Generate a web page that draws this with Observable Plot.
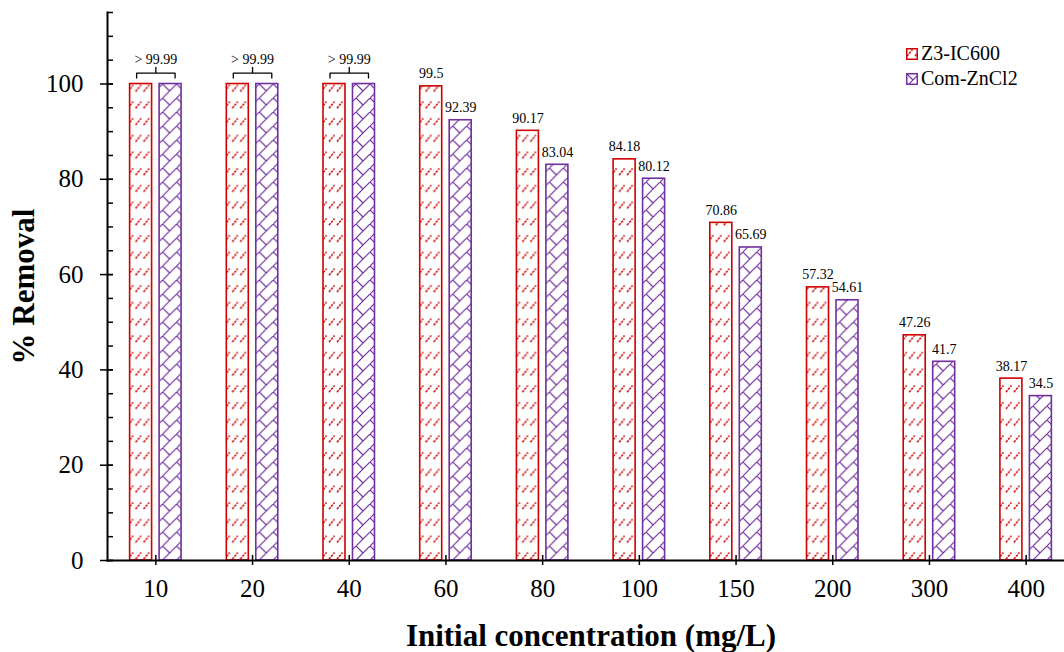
<!DOCTYPE html>
<html>
<head>
<meta charset="utf-8">
<script src="https://cdn.jsdelivr.net/npm/d3@7"></script>
<script src="https://cdn.jsdelivr.net/npm/@observablehq/plot@0.6"></script>
<style>
  html, body { margin: 0; padding: 0; background: #fff; overflow: hidden; }
  #wrap { position: relative; width: 1064px; height: 652px; }
  #legend { position: absolute; left: 906px; top: 41px; font-family: "Liberation Serif", "Times New Roman", serif; font-size: 20px; color: #000; }
  #legend .item { display: flex; align-items: center; height: 25px; white-space: nowrap; }
  #legend .item svg { margin-right: 3px; }
</style>
</head>
<body>
<svg width="0" height="0" style="position:absolute">
  <defs>
    <pattern id="patZ3" patternUnits="userSpaceOnUse" width="8" height="16.7">
      <rect width="8" height="16.7" fill="#fff"></rect>
      <path d="M1,8L6.5,1.5" stroke="#d00000" stroke-width="1.5" stroke-dasharray="2.4 1" fill="none"></path>
    </pattern>
    <pattern id="patCom" patternUnits="userSpaceOnUse" width="14" height="14">
      <rect width="14" height="14" fill="#fff"></rect>
      <path d="M0,14L14,0M0,0L7,7" stroke="#7030a0" stroke-width="1.2" fill="none"></path>
    </pattern>
  </defs>
</svg>
<div id="wrap"><div id="chart"></div><div id="legend"></div></div>
<script>
// ---- data ----
const concentrations = ["10", "20", "40", "60", "80", "100", "150", "200", "300", "400"];
const seriesNames = ["Z3-IC600", "Com-ZnCl2"];
const z3IC600 = [99.99, 99.99, 99.99, 99.5, 90.17, 84.18, 70.86, 57.32, 47.26, 38.17];
const comZnCl2 = [99.99, 99.99, 99.99, 92.39, 83.04, 80.12, 65.69, 54.61, 41.7, 34.5];
const bracketed = ["10", "20", "40"];
const bracketText = "> 99.99";
const majorTicks = [0, 20, 40, 60, 80, 100];
const minorTicks = [0, 5, 10, 15, 20, 25, 30, 35, 40, 45, 50, 55, 60, 65, 70, 75, 80, 85, 90, 95, 100, 105, 110, 115];
const yLabel = "% Removal";
const xLabel = "Initial concentration (mg/L)";

const seriesColors = ["#d00000", "#7030a0"];
const seriesPatterns = ["url(#patZ3)", "url(#patCom)"];

// ---- layout ----
const W = 1064, H = 652, mL = 107, mR = -10;
const fxPadInner = 0.4677, fxPadOuter = 0.2338;
// facet frames start after the fx outer padding; shift the axis lines back onto the plot's left edge
const axisShift = -fxPadOuter * (W - mL - mR) / concentrations.length;

// ---- tables ----
const rows = concentrations.flatMap((c, i) => [
  {conc: c, series: seriesNames[0], value: z3IC600[i]},
  {conc: c, series: seriesNames[1], value: comZnCl2[i]}
]);
const labeled = rows.filter(d => !bracketed.includes(d.conc));
const bracketRows = concentrations
  .map((c, i) => ({conc: c, a: seriesNames[0], b: seriesNames[1], value: z3IC600[i]}))
  .filter(d => bracketed.includes(d.conc));

// bracket-shaped curve for the "> 99.99" groups
function bracketCurve(context) {
  let pts = [];
  return {
    areaStart() {}, areaEnd() {},
    lineStart() { pts = []; },
    point(x, y) { pts.push([+x, +y]); },
    lineEnd() {
      const [[x1, y], [x2]] = pts;
      const ext = 4.5, leg = 5.5, nub = 6, mid = (x1 + x2) / 2;
      context.moveTo(x1 - ext, y + leg);
      context.lineTo(x1 - ext, y);
      context.lineTo(x2 + ext, y);
      context.lineTo(x2 + ext, y + leg);
      context.moveTo(mid, y);
      context.lineTo(mid, y - nub);
    }
  };
}

const chart = Plot.plot({
  width: W,
  height: H,
  marginTop: 12,
  marginBottom: 92,
  marginLeft: mL,
  marginRight: mR,
  style: {fontFamily: '"Liberation Serif", "Times New Roman", serif', background: "#fff", color: "#000", overflow: "hidden"},
  fx: {domain: concentrations, paddingInner: fxPadInner, paddingOuter: fxPadOuter, round: false, label: null},
  x: {domain: seriesNames, paddingInner: 0.2542, paddingOuter: 0, round: false, axis: null},
  y: {domain: [0, 115]},
  marks: [
    Plot.barY(rows.filter(d => d.series === seriesNames[0]), {
      fx: "conc", x: "series", y: "value",
      fill: seriesPatterns[0], stroke: seriesColors[0], strokeWidth: 1.6
    }),
    Plot.barY(rows.filter(d => d.series === seriesNames[1]), {
      fx: "conc", x: "series", y: "value",
      fill: seriesPatterns[1], stroke: seriesColors[1], strokeWidth: 1.6
    }),
    Plot.text(labeled, {
      fx: "conc", x: "series", y: "value", text: d => String(d.value),
      dy: -8, lineAnchor: "bottom", fontSize: 14, fill: "#000"
    }),
    Plot.link(bracketRows, {
      fx: "conc", x1: "a", x2: "b", y1: "value", y2: "value",
      dy: -11, curve: bracketCurve, stroke: "#000", strokeWidth: 1.3
    }),
    Plot.text(bracketRows, {
      fx: "conc", y: "value", text: () => bracketText,
      dy: -20, lineAnchor: "bottom", fontSize: 14, fill: "#000"
    }),
    Plot.axisY(minorTicks, {tickSize: 6, dx: axisShift + 6, fill: "none", label: null, strokeWidth: 1.5}),
    Plot.axisY(majorTicks, {tickSize: 13, dx: axisShift + 6, tickPadding: 17, fontSize: 25, label: null, strokeWidth: 1.5}),
    Plot.axisY([], {label: yLabel, labelAnchor: "center", labelOffset: 96 - axisShift, labelArrow: "none", fontSize: 31, fontWeight: "bold"}),
    Plot.axisFx({anchor: "bottom", tickSize: 10, dy: -5, tickPadding: 14, fontSize: 25, label: null, strokeWidth: 1.5}),
    Plot.axisFx([], {anchor: "bottom", label: xLabel, labelAnchor: "center", labelOffset: 85.5, labelArrow: "none", fontSize: 31, fontWeight: "bold"}),
    Plot.frame({anchor: "left", facet: "super", dx: axisShift, strokeWidth: 2}),
    Plot.frame({anchor: "bottom", facet: "super", insetLeft: axisShift, insetRight: axisShift, strokeWidth: 2})
  ]
});
document.getElementById("chart").append(chart);

// legend
const legend = document.getElementById("legend");
seriesNames.forEach((name, i) => {
  const item = document.createElement("div");
  item.className = "item";
  item.innerHTML = `<svg width="12" height="12"><rect x="0.75" y="0.75" width="10.5" height="10.5" fill="${seriesPatterns[i]}" stroke="${seriesColors[i]}" stroke-width="1.5"></rect></svg><span></span>`;
  item.querySelector("span").textContent = name;
  legend.append(item);
});
</script>
</body>
</html>
